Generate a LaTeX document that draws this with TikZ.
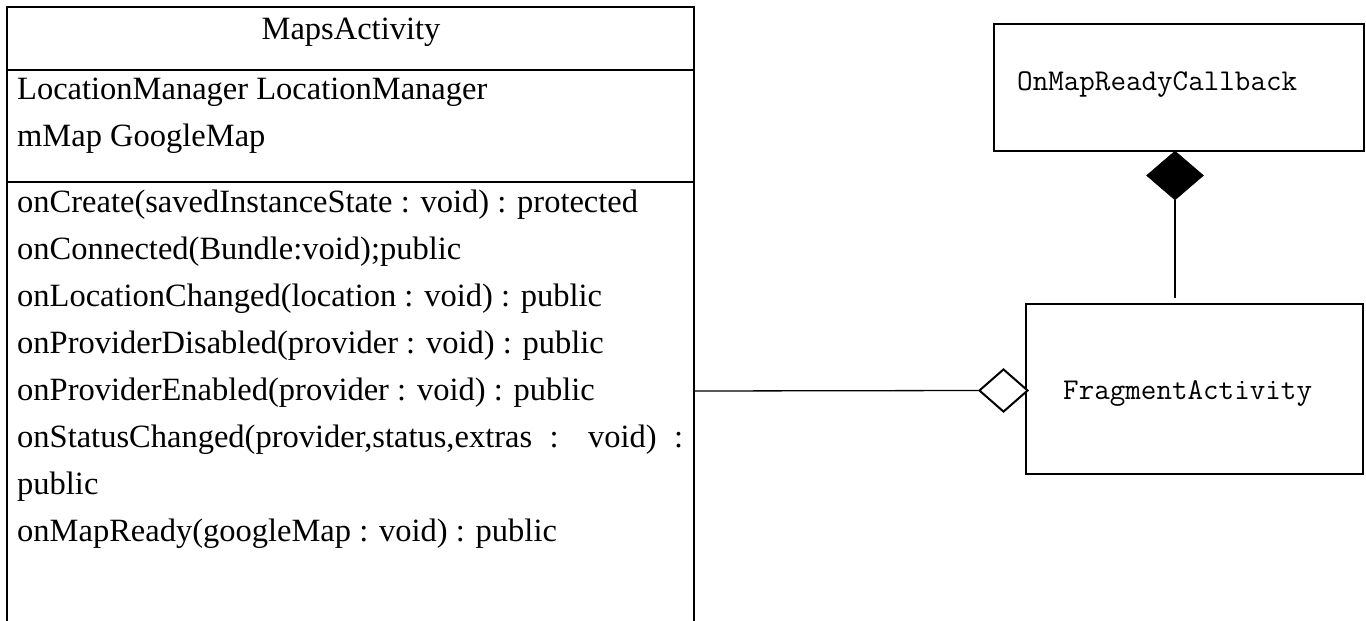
\documentclass[tikz,border=0pt]{standalone}
\usepackage{fontspec}
\setmainfont{Liberation Serif}
\usetikzlibrary{shapes.geometric}
\begin{document}
\begin{tikzpicture}[x=1pt,y=-1pt,
  box/.style={draw, line width=2pt, inner sep=0pt},
  rule/.style={line width=2pt},
  txt/.style={anchor=base west, inner sep=0pt, font=\fontsize{32.5}{36}\selectfont},
  mono/.style={anchor=base west, inner sep=0pt, font=\fontsize{30.2}{32}\selectfont\ttfamily},
  link/.style={line width=1.5pt},
  dia/.style={diamond, draw, inner sep=0pt}]
\useasboundingbox (0,0) rectangle (1366,621);
\fill[white] (0,0) rectangle (1366,621);

% MapsActivity class box (open at the bottom)
\draw[rule] (7,640) -- (7,7) -- (694,7) -- (694,640);
\draw[rule] (7,70) -- (694,70);
\draw[rule] (7,182) -- (694,182);
\coordinate (mapsE) at (694,391);

\node[txt, anchor=base] (title) at (351,39) {MapsActivity};
\node[txt] (a1) at (17,99) {LocationManager LocationManager};
\node[txt] (a2) at (17,146) {mMap GoogleMap};
\node[txt] (m1) at (17,212) {onCreate(savedInstanceState : void) : protected};
\node[txt] (m2) at (17,259) {onConnected(Bundle:void);public};
\node[txt] (m3) at (17,306) {onLocationChanged(location : void) : public};
\node[txt] (m4) at (17,353) {onProviderDisabled(provider : void) : public};
\node[txt] (m5) at (17,400) {onProviderEnabled(provider : void) : public};
\node[txt] (m6) at (17,447) {\makebox[666pt][s]{onStatusChanged(provider,status,extras : void) :}};
\node[txt] (m7) at (17,494) {public};
\node[txt] (m8) at (17,541) {onMapReady(googleMap : void) : public};

% OnMapReadyCallback
\node[box, minimum width=370pt, minimum height=127pt] (cb) at (1179,87.5) {};
\node[mono] (cbt) at (1017,90) {OnMapReadyCallback};

% FragmentActivity
\node[box, minimum width=337pt, minimum height=170pt] (fa) at (1194.5,389) {};
\node[mono] (fat) at (1063,399) {FragmentActivity};

% composition
\node[dia, fill=black, line width=0.5pt, minimum width=57pt, minimum height=49pt] (comp) at (1175,175.5) {};
\coordinate (compEnd) at (1175,298);
\draw[link] (comp.south) -- (compEnd);

% aggregation
\node[dia, fill=white, line width=2pt, minimum width=49pt, minimum height=43pt] (agg) at (1003.5,390.5) {};
\draw[line width=1.3pt] (mapsE) -- (agg.west);
\end{tikzpicture}
\end{document}
